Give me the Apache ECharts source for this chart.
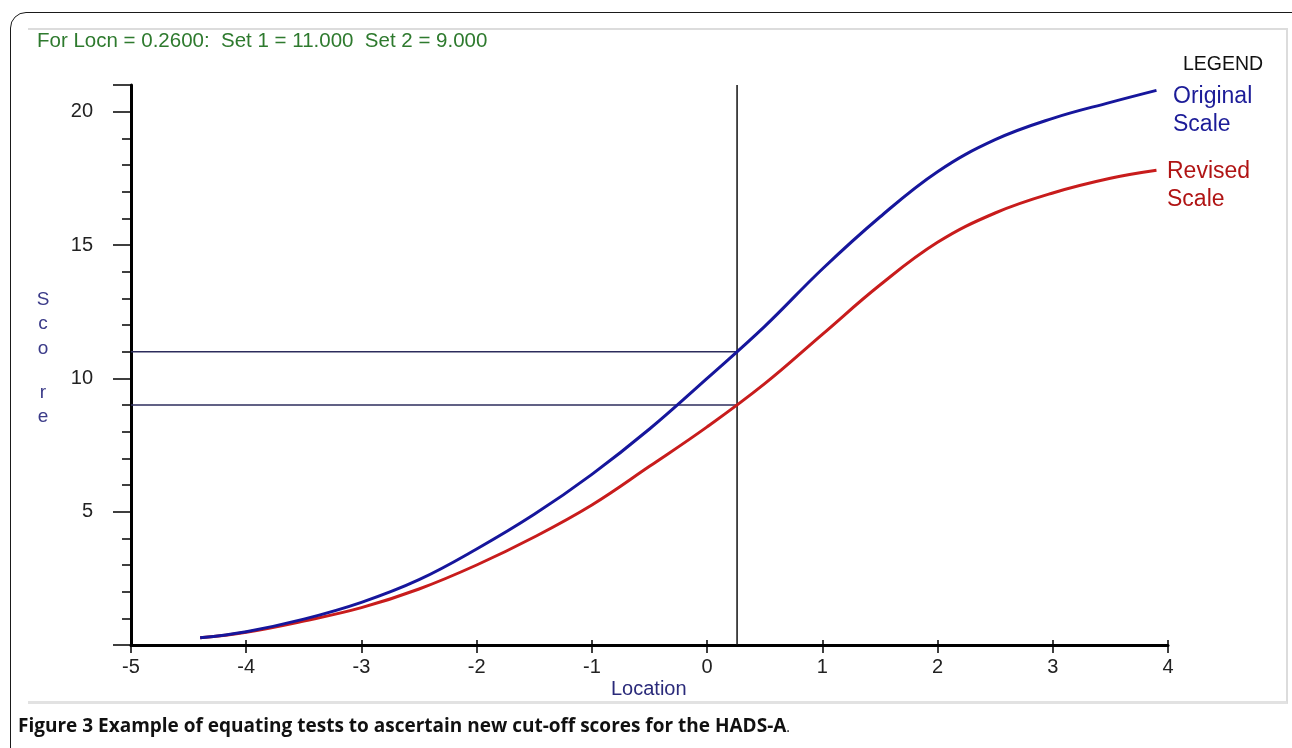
<!DOCTYPE html>
<html>
<head>
<meta charset="utf-8">
<script src="https://cdn.jsdelivr.net/npm/echarts@6/dist/echarts.min.js"></script>
<style>
  html, body { margin: 0; padding: 0; width: 1292px; height: 748px; overflow: hidden; background: #fff; }
  #frame { position: absolute; left: 10px; top: 12px; width: 1400px; height: 900px; border: 1.5px solid #1a1a1a; border-radius: 16px; }
  #shot { position: absolute; left: 28px; top: 28px; width: 1258px; height: 671px; border-top: 2px solid #dcdcdc; border-right: 2px solid #dcdcdc; border-bottom: 3px solid #e2e2e2; }
  #chart { position: absolute; left: 0; top: 0; width: 1292px; height: 748px; }
  #caption { position: absolute; left: 18px; top: 712px; font-family: "Open Sans", "Noto Sans", sans-serif; font-size: 19px; font-weight: bold; color: #111; white-space: nowrap; }
  #caption span { font-weight: normal; font-size: 14px; }
</style>
</head>
<body>
<div id="frame"></div>
<div id="shot"></div>
<div id="chart"></div>
<div id="caption">Figure 3 Example of equating tests to ascertain new cut-off scores for the HADS-A<span>.</span></div>
<script>
// ---- data ----
const locations     = [-4.4, -4, -3.5, -3, -2.5, -2, -1.5, -1, -0.5, 0, 0.5, 1, 1.5, 2, 2.5, 3, 3.5, 3.9];
const originalScale = [0.27, 0.5, 0.97, 1.6, 2.45, 3.6, 4.9, 6.4, 8.1, 10.0, 11.95, 14.1, 16.05, 17.75, 18.95, 19.75, 20.35, 20.8];
const revisedScale  = [0.27, 0.48, 0.9, 1.4, 2.1, 3.0, 4.05, 5.25, 6.7, 8.18, 9.8, 11.65, 13.5, 15.1, 16.2, 16.95, 17.5, 17.8];
const xTicks = [-5, -4, -3, -2, -1, 0, 1, 2, 3, 4];
const yTicks = [5, 10, 15, 20];
const cutLocation = 0.26;
const cutSet1 = 11;
const cutSet2 = 9;
const xMin = -5, xMax = 4, yMin = 0, yMax = 21;
const headerText = 'For Locn = 0.2600:  Set 1 = 11.000  Set 2 = 9.000';
const yNameLetters = ['S', 'c', 'o', 'r', 'e'];

const chart = echarts.init(document.getElementById('chart'));
const font = '"Liberation Sans", Arial, sans-serif';

const grid = { left: 131, right: 124, top: 85, bottom: 103 };

const pair = (xs, ys) => xs.map((x, i) => [x, ys[i]]);

const letterY = [300, 324, 349, 393, 417];

const option = {
  animation: false,
  backgroundColor: 'transparent',
  grid: grid,
  xAxis: [{
    type: 'value', min: xMin, max: xMax, interval: 1,
    axisLine: { show: true, onZero: false, lineStyle: { color: '#000', width: 3 } },
    axisTick: { show: true, length: 8, lineStyle: { color: '#000', width: 1.5 } },
    axisLabel: { color: '#222', fontSize: 20, fontFamily: font, margin: 12,
      formatter: v => xTicks.includes(v) ? String(v) : '' },
    splitLine: { show: false }
  }, {
    type: 'value', min: xMin, max: xMax, interval: 1, position: 'bottom',
    axisLine: { show: false },
    axisTick: { show: true, inside: true, length: 5, lineStyle: { color: '#000', width: 1.5 } },
    axisLabel: { show: false },
    splitLine: { show: false }
  }],
  yAxis: {
    type: 'value', min: yMin, max: yMax, interval: 5,
    axisLine: { show: true, onZero: false, lineStyle: { color: '#000', width: 3 } },
    axisTick: { show: true, length: 18, lineStyle: { color: '#000', width: 1.5 } },
    minorTick: { show: true, splitNumber: 5, length: 9, lineStyle: { color: '#000', width: 1.5 } },
    axisLabel: { color: '#222', fontSize: 20, fontFamily: font, margin: 38,
      formatter: v => yTicks.includes(v) ? String(v) : '' },
    splitLine: { show: false }
  },
  series: [
    {
      name: 'Set 1 guide', type: 'line', xAxisIndex: 0,
      data: [[xMin, cutSet1], [cutLocation, cutSet1]],
      showSymbol: false, silent: true,
      lineStyle: { color: '#2c2c5c', width: 1.5 }, z: 1
    },
    {
      name: 'Set 2 guide', type: 'line', xAxisIndex: 0,
      data: [[xMin, cutSet2], [cutLocation, cutSet2]],
      showSymbol: false, silent: true,
      lineStyle: { color: '#2c2c5c', width: 1.5 }, z: 1
    },
    {
      name: 'Location guide', type: 'line', xAxisIndex: 0,
      data: [[cutLocation, yMin], [cutLocation, yMax]],
      showSymbol: false, silent: true,
      lineStyle: { color: '#111', width: 1.5 }, z: 1
    },
    {
      name: 'Original Scale', type: 'line', xAxisIndex: 0,
      data: pair(locations, originalScale),
      smooth: 0.4, showSymbol: false,
      lineStyle: { color: '#16169c', width: 3 }, z: 3
    },
    {
      name: 'Revised Scale', type: 'line', xAxisIndex: 0,
      data: pair(locations, revisedScale),
      smooth: 0.4, showSymbol: false,
      lineStyle: { color: '#c81c1c', width: 3 }, z: 2
    }
  ],
  graphic: [
    { type: 'text', left: 37, top: 31, style: { text: headerText, fill: '#2e7a2e', fontSize: 20.5, fontFamily: font } },
    { type: 'text', left: 1183, top: 55, style: { text: 'LEGEND', fill: '#111', fontSize: 19.5, fontFamily: font } },
    { type: 'text', left: 1173, top: 83, style: { text: 'Original\nScale', fill: '#1c1c98', fontSize: 23, lineHeight: 28, fontFamily: font } },
    { type: 'text', left: 1167, top: 158, style: { text: 'Revised\nScale', fill: '#b01414', fontSize: 23, lineHeight: 28, fontFamily: font } },
    { type: 'text', left: 611, top: 679, style: { text: 'Location', fill: '#2a2a7a', fontSize: 20, fontFamily: font } }
  ].concat(yNameLetters.map((ch, i) => ({
    type: 'text', x: 43, y: letterY[i],
    style: { text: ch, fill: '#3a3a88', fontSize: 19, fontFamily: font, align: 'center', verticalAlign: 'middle' }
  })))
};

chart.setOption(option);
</script>
</body>
</html>
